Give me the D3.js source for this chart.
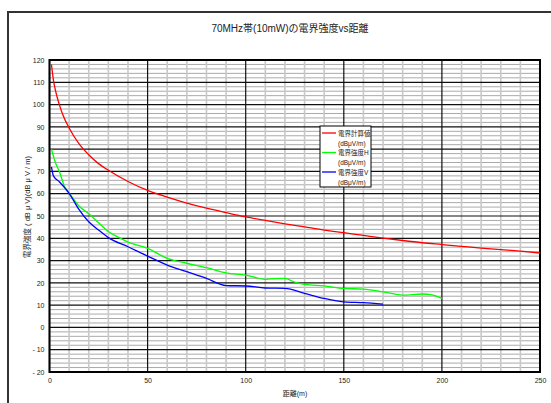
<!DOCTYPE html>
<html>
<head>
<meta charset="utf-8">
<script src="https://cdn.jsdelivr.net/npm/d3@7"></script>
<style>
  body { margin: 0; background: #fff; }
  text { font-family: "Liberation Sans", "Noto Sans CJK JP", sans-serif; fill: #222; }
</style>
</head>
<body>
<div id="chart"></div>
<script>
// chart size
let width = 551, height = 403;

// DATA
let calcDist  = [1, 2, 3, 5, 7, 10, 15, 20, 25, 30, 40, 50, 60, 70, 80, 90, 100, 110, 120, 130, 140, 150, 160, 170, 180, 190, 200, 210, 220, 230, 240, 250];
let calcVal   = [118, 111, 106.5, 100, 95, 89.5, 82.5, 77.5, 73.5, 70.5, 65.5, 61.5, 58.5, 55.8, 53.5, 51.5, 49.6, 48, 46.5, 45.1, 43.7, 42.5, 41.3, 40.1, 39, 38, 37.2, 36.4, 35.6, 34.9, 34.2, 33.4];

let hDist = [1, 3, 5, 8, 10, 15, 20, 25, 30, 35, 40, 50, 60, 70, 80, 90, 100, 110, 115, 120, 125, 130, 140, 150, 160, 170, 180, 190, 195, 200];
let hVal  = [80, 74, 70, 62.5, 60.3, 54.5, 51, 47, 43, 40.5, 38.3, 35.5, 31, 28.8, 26.8, 24.5, 23.5, 21.6, 21.9, 22, 20.3, 19.3, 18.6, 17.5, 17.2, 16, 14.5, 15, 14.6, 13];

let vDist = [1, 2, 5, 10, 15, 20, 25, 30, 40, 50, 60, 70, 80, 90, 100, 110, 120, 130, 140, 150, 160, 170];
let vVal  = [72, 68, 65.4, 60.2, 53, 47.4, 43.7, 40.3, 36.2, 32, 28, 25, 22, 18.8, 18.6, 17.7, 17.5, 15.3, 13, 11.5, 11.1, 10.5];

let xTicks = [0, 50, 100, 150, 200, 250];
let yTicks = [-20, -10, 0, 10, 20, 30, 40, 50, 60, 70, 80, 90, 100, 110, 120];

let seriesNames = ["電界計算値", "電界強度H", "電界強度V"];
let seriesColors = ["#ff0000", "#00ff00", "#0000ff"];

let titleText = "70MHz帯(10mW)の電界強度vs距離";
let xLabel = "距離(m)";
let yLabel = "電界強度 ( dB μ V)(dB μ V / m)";

// plot box
let plotL = 49.5, plotR = 540, plotT = 60, plotB = 372;

let svg = d3.select("#chart").append("svg")
  .attr("width", width)
  .attr("height", height);

// outer frame
svg.append("path")
  .attr("d", "M8," + (height + 5) + "V12H" + (width + 5))
  .attr("fill", "none")
  .attr("stroke", "#333")
  .attr("stroke-width", 2);

let x = d3.scaleLinear().domain([0, 250]).range([plotL, plotR]);
let y = d3.scaleLinear().domain([-20, 120]).range([plotB, plotT]);

// GRID minor
svg.append("g").selectAll("line")
  .data(d3.range(-20, 121, 2).filter(v => v % 10 !== 0))
  .enter().append("line")
  .attr("x1", plotL).attr("x2", plotR)
  .attr("y1", d => y(d)).attr("y2", d => y(d))
  .attr("stroke", "#aaa").attr("stroke-width", 1);

svg.append("g").selectAll("line")
  .data(d3.range(0, 251, 10).filter(v => v % 50 !== 0))
  .enter().append("line")
  .attr("x1", d => x(d)).attr("x2", d => x(d))
  .attr("y1", plotT).attr("y2", plotB)
  .attr("stroke", "#c8c8c8").attr("stroke-width", 1.6);

// GRID major
svg.append("g").selectAll("line")
  .data(yTicks)
  .enter().append("line")
  .attr("x1", plotL).attr("x2", plotR)
  .attr("y1", d => y(d)).attr("y2", d => y(d))
  .attr("stroke", "#111").attr("stroke-width", 1.2);

svg.append("g").selectAll("line")
  .data(xTicks)
  .enter().append("line")
  .attr("x1", d => x(d)).attr("x2", d => x(d))
  .attr("y1", plotT).attr("y2", plotB)
  .attr("stroke", "#111").attr("stroke-width", 1.2);

// plot border
svg.append("rect")
  .attr("x", plotL).attr("y", plotT)
  .attr("width", plotR - plotL).attr("height", plotB - plotT)
  .attr("fill", "none").attr("stroke", "#000").attr("stroke-width", 2);

// AXES (labels only)
let xAxis = d3.axisBottom(x).tickValues(xTicks).tickSize(0).tickPadding(6);
let gx = svg.append("g").attr("transform", "translate(0," + plotB + ")").call(xAxis);
gx.select(".domain").remove();
gx.selectAll("text").style("font-size", "7px").attr("fill", "#333");

let yAxis = d3.axisLeft(y).tickValues(yTicks).tickSize(0).tickPadding(5)
  .tickFormat(d => d < 0 ? "- " + Math.abs(d) : d);
let gy = svg.append("g").attr("transform", "translate(" + plotL + ",0)").call(yAxis);
gy.select(".domain").remove();
gy.selectAll("text").style("font-size", "7px").attr("fill", "#333");

// LINES
let line = d3.line()
  .x(d => x(d[0]))
  .y(d => y(d[1]))
  .curve(d3.curveMonotoneX);

let series = [
  d3.zip(calcDist, calcVal),
  d3.zip(hDist, hVal),
  d3.zip(vDist, vVal)
];

svg.append("g").selectAll("path")
  .data(series)
  .enter().append("path")
  .attr("d", line)
  .attr("fill", "none")
  .attr("stroke", (d, i) => seriesColors[i])
  .attr("stroke-width", 1.3);

// TITLE
svg.append("text")
  .attr("x", 290).attr("y", 32)
  .attr("text-anchor", "middle")
  .style("font-size", "10px")
  .text(titleText);

svg.append("text")
  .attr("x", 295).attr("y", 396)
  .attr("text-anchor", "middle")
  .style("font-size", "7px")
  .text(xLabel);

svg.append("text")
  .attr("transform", "translate(30,207) rotate(-90)")
  .attr("text-anchor", "middle")
  .style("font-size", "7.5px")
  .text(yLabel);

// LEGEND
let legend = svg.append("g").attr("transform", "translate(320,126)");
legend.append("rect")
  .attr("width", 51).attr("height", 61)
  .attr("fill", "#fff").attr("stroke", "#000").attr("stroke-width", 1);

let items = legend.selectAll("g.item")
  .data(seriesNames)
  .enter().append("g")
  .attr("transform", (d, i) => "translate(0," + (7 + i * 19.5) + ")");

items.append("line")
  .attr("x1", 2).attr("x2", 16)
  .attr("stroke", (d, i) => seriesColors[i])
  .attr("stroke-width", 1.3);

items.append("text")
  .attr("x", 18).attr("y", 2.5)
  .style("font-size", "6.5px")
  .text(d => d);

items.append("text")
  .attr("x", 18).attr("y", 12.5)
  .style("font-size", "6.5px")
  .text("(dBμV/m)");
</script>
</body>
</html>
